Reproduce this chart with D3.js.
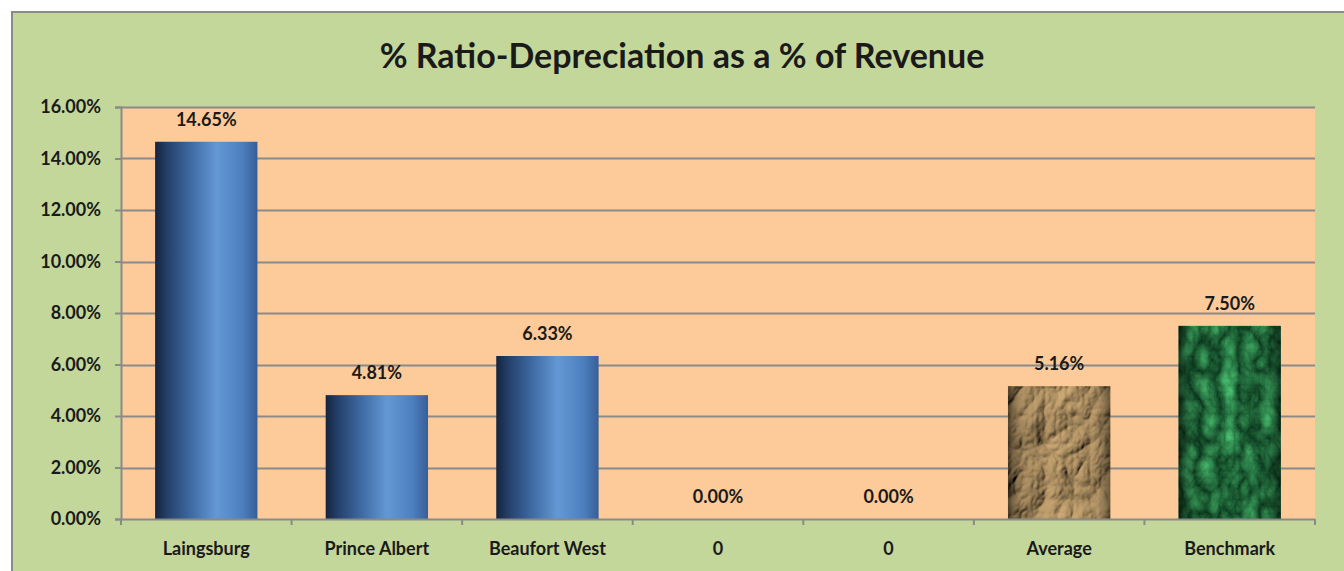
<!DOCTYPE html>
<html>
<head>
<meta charset="utf-8">
<script src="https://cdn.jsdelivr.net/npm/d3@7"></script>
<style>
  html, body { margin: 0; padding: 0; background: #ffffff; }
  svg { display: block; }
  text { font-family: Lato, "Open Sans", "Liberation Sans", sans-serif; font-weight: bold; fill: #1a1a1a; }
</style>
</head>
<body>
<svg id="chart" width="1344" height="571"></svg>
<script>
// Chart data
const categories = ["Laingsburg", "Prince Albert", "Beaufort West", "0", "0", "Average", "Benchmark"];
const values = [0.1465, 0.0481, 0.0633, 0.0, 0.0, 0.0516, 0.075];
const fills = ["blue", "blue", "blue", "blue", "blue", "paper", "marble"];
const yTicks = [0, 0.02, 0.04, 0.06, 0.08, 0.10, 0.12, 0.14, 0.16];
const titleText = "% Ratio-Depreciation as a % of Revenue";

const W = 1344, H = 571;
const plot = { left: 121, right: 1315, top: 107, bottom: 519 };

const rows = categories.map((c, i) => ({ i, cat: c, v: values[i], fill: fills[i] }));

const svg = d3.select("#chart");
const defs = svg.append("defs");

// Cylinder-style shading for the municipal bars
const blue = defs.append("linearGradient").attr("id", "blueGrad").attr("x1", 0).attr("x2", 1).attr("y1", 0).attr("y2", 0);
[[0, "#15243d"], [0.12, "#24406a"], [0.35, "#3f6aa3"], [0.6, "#6498d4"], [0.85, "#4d7fbf"], [1, "#365f98"]]
  .forEach(([o, c]) => blue.append("stop").attr("offset", o).attr("stop-color", c));

// Edge shading used over the textured bars
const edge = defs.append("linearGradient").attr("id", "edgeGrad").attr("x1", 0).attr("x2", 1).attr("y1", 0).attr("y2", 0);
[[0, "#000", 0.55], [0.12, "#000", 0.15], [0.5, "#000", 0], [0.88, "#000", 0.1], [1, "#000", 0.45]]
  .forEach(([o, c, a]) => edge.append("stop").attr("offset", o).attr("stop-color", c).attr("stop-opacity", a));

// Crumpled paper texture
const paper = defs.append("filter").attr("id", "paperTex").attr("x", 0).attr("y", 0).attr("width", 1).attr("height", 1);
paper.append("feTurbulence").attr("type", "turbulence").attr("baseFrequency", "0.022 0.018").attr("numOctaves", 4).attr("seed", 5).attr("result", "noise");
const lit = paper.append("feDiffuseLighting").attr("in", "noise").attr("lighting-color", "#d2ae78").attr("surfaceScale", 7).attr("result", "lit");
lit.append("feDistantLight").attr("azimuth", 225).attr("elevation", 40);
paper.append("feComposite").attr("in", "lit").attr("in2", "SourceGraphic").attr("operator", "in");

// Green marble texture
const marble = defs.append("filter").attr("id", "marbleTex").attr("x", 0).attr("y", 0).attr("width", 1).attr("height", 1)
  .attr("color-interpolation-filters", "sRGB");
marble.append("feTurbulence").attr("type", "turbulence").attr("baseFrequency", "0.05 0.035").attr("numOctaves", 5).attr("seed", 11).attr("result", "noise");
marble.append("feColorMatrix").attr("in", "noise").attr("type", "matrix")
  .attr("values", "0.3 0 0 0 0.03  0.65 0 0 0 0.2  0.4 0 0 0 0.1  0 0 0 0 1").attr("result", "col");
marble.append("feComposite").attr("in", "col").attr("in2", "SourceGraphic").attr("operator", "in");

// Chart area background and border
svg.append("rect").attr("x", 12).attr("y", 12).attr("width", W).attr("height", H)
  .attr("fill", "#c4d79b").attr("stroke", "#8a8a8a").attr("stroke-width", 2);

// Plot area
svg.append("rect").attr("x", plot.left).attr("y", plot.top)
  .attr("width", plot.right - plot.left).attr("height", plot.bottom - plot.top).attr("fill", "#fdca99");

const x = d3.scaleBand().domain(d3.range(categories.length)).range([plot.left, plot.right]).paddingInner(0.4).paddingOuter(0.2);
const y = d3.scaleLinear().domain([0, 0.16]).range([plot.bottom, plot.top]);

// Gridlines
svg.append("g").selectAll("line").data(yTicks.filter(d => d > 0)).join("line")
  .attr("x1", plot.left).attr("x2", plot.right)
  .attr("y1", d => Math.round(y(d)) + 0.5).attr("y2", d => Math.round(y(d)) + 0.5)
  .attr("stroke", "#8a8a8a").attr("stroke-width", 2);

// Y axis
const yAxis = svg.append("g").attr("transform", `translate(${plot.left},0)`)
  .call(d3.axisLeft(y).tickValues(yTicks).tickFormat(d3.format(".2%")).tickSize(6).tickPadding(14));
yAxis.select(".domain").attr("stroke", "#8a8a8a").attr("stroke-width", 2);
yAxis.selectAll(".tick line").attr("stroke", "#8a8a8a").attr("stroke-width", 2);
yAxis.selectAll(".tick text").style("font-size", "18px").style("font-family", null).attr("fill", "#1a1a1a");

// Bars
const bars = svg.append("g").selectAll("g").data(rows).join("g");
bars.append("rect")
  .attr("x", d => x(d.i)).attr("width", x.bandwidth())
  .attr("y", d => y(d.v)).attr("height", d => y(0) - y(d.v))
  .attr("fill", d => d.fill === "blue" ? "url(#blueGrad)" : d.fill === "paper" ? "#c9b28a" : "#0f4a2c")
  .attr("filter", d => d.fill === "paper" ? "url(#paperTex)" : d.fill === "marble" ? "url(#marbleTex)" : null);
bars.filter(d => d.fill !== "blue").append("rect")
  .attr("x", d => x(d.i)).attr("width", x.bandwidth())
  .attr("y", d => y(d.v)).attr("height", d => y(0) - y(d.v))
  .attr("fill", "url(#edgeGrad)");

// Value labels
svg.append("g").selectAll("text").data(rows).join("text")
  .attr("x", d => x(d.i) + x.bandwidth() / 2)
  .attr("y", d => y(d.v) - 23)
  .attr("text-anchor", "middle").attr("dominant-baseline", "central")
  .style("font-size", "18px")
  .text(d => d3.format(".2%")(d.v));

// X axis
const xAxis = svg.append("g").attr("transform", `translate(0,${plot.bottom})`);
xAxis.append("line").attr("x1", plot.left).attr("x2", plot.right).attr("y1", 0.5).attr("y2", 0.5)
  .attr("stroke", "#8a8a8a").attr("stroke-width", 2);
const step = x.step();
xAxis.selectAll("line.tk").data(d3.range(categories.length + 1)).join("line").attr("class", "tk")
  .attr("x1", d => plot.left + d * step).attr("x2", d => plot.left + d * step)
  .attr("y1", 0).attr("y2", 6).attr("stroke", "#8a8a8a").attr("stroke-width", 2);
xAxis.selectAll("text").data(rows).join("text")
  .attr("x", d => x(d.i) + x.bandwidth() / 2).attr("y", 29)
  .attr("text-anchor", "middle").attr("dominant-baseline", "central")
  .style("font-size", "18px").text(d => d.cat);

// Title
svg.append("text").attr("x", 682).attr("y", 54)
  .attr("text-anchor", "middle").attr("dominant-baseline", "central")
  .style("font-size", "34px").text(titleText);
</script>
</body>
</html>
